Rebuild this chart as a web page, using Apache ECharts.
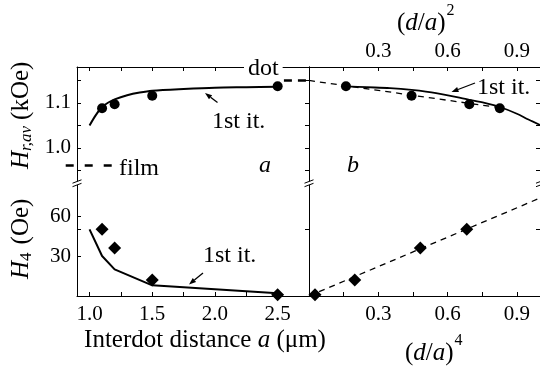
<!DOCTYPE html>
<html><head><meta charset="utf-8">
<script src="https://cdn.jsdelivr.net/npm/echarts@6/dist/echarts.min.js"></script>
<style>html,body{margin:0;padding:0;background:#fff}#c{width:540px;height:370px}</style>
</head><body><div id="c"></div>
<script>
// ---- data ----
const interdotA      = [1.1, 1.2, 1.5, 2.5];          // a (µm) of measured points
const hrAvMeasured   = [1.088, 1.097, 1.116, 1.137];  // Hr,av (kOe)
const h4Measured     = [50, 36, 12, 1];               // H4 (Oe)
const dA2Measured    = [0.826, 0.694, 0.444, 0.16];   // (d/a)^2 of the same points
const dA4Measured    = [0.683, 0.482, 0.198, 0.026];  // (d/a)^4 of the same points

const firstItA       = [1.0, 1.05, 1.1, 1.15, 1.2, 1.3, 1.4, 1.5, 1.75, 2.0, 2.25, 2.5];
const firstItHrA     = [1.050, 1.073, 1.091, 1.101, 1.108, 1.117, 1.123, 1.127, 1.131, 1.134, 1.135, 1.136];
const firstItDA2     = [0.16, 0.25, 0.35, 0.444, 0.55, 0.694, 0.76, 0.826, 0.9, 0.95, 1.0];
const firstItHrDA2   = [1.137, 1.135, 1.133, 1.129, 1.122, 1.107, 1.100, 1.091, 1.076, 1.063, 1.051];
const firstItH4A     = [1.0, 1.1, 1.2, 1.5, 2.5];
const firstItH4      = [50, 30, 20, 8, 2];

const linFitHrX      = [0, 0.83];
const linFitHrY      = [1.15, 1.089];
const linFitH4X      = [0, 1.0];
const linFitH4Y      = [0, 73.5];
const filmLevelX     = [0.81, 1.18];
const filmLevelY     = [0.961, 0.961];
const dotLevelX      = [2.55, 2.75];
const dotLevelY      = [1.15, 1.15];

const aLabelTicks    = [1.0, 1.5, 2.0, 2.5];
const aMinorTicks    = [1.0, 1.25, 1.5, 1.75, 2.0, 2.25, 2.5];
const dLabelTicks    = [0.3, 0.6, 0.9];
const dMinorTicks    = [0.15, 0.3, 0.45, 0.6, 0.75, 0.9];
const hrLabelTicks   = [1.0, 1.1];
const hrTicks        = [0.95, 1.0, 1.05, 1.1, 1.15];
const h4LabelTicks   = [30, 60];
const h4Ticks        = [30, 50, 60];
const h4InnerTicks   = [50];

// ---- layout ----
const FF = '"Liberation Serif","Times New Roman",serif';
const L = 77, MID = 309, R = 541.5, TOP = 67, BRK = 182, BOT = 296;

const pair = (xs, ys) => xs.map((x, i) => [x, ys[i]]);
const lineC = '#000';

function xAx(grid, pos, min, max, labels, ticks, showLabel) {
  return {
    type: 'value', gridIndex: grid, position: pos, min, max,
    splitLine: {show: false},
    axisLine: {show: true, lineStyle: {color: lineC, width: 1}},
    axisTick: {show: true, inside: true, length: 4, customValues: ticks, lineStyle: {color: lineC}},
    axisLabel: {show: showLabel, customValues: labels, formatter: v => v.toFixed(1),
      color: '#000', fontFamily: FF, fontSize: 21, margin: pos === 'top' ? 5 : 8}
  };
}
function yAx(grid, pos, min, max, labels, ticks, showLabel, fmt) {
  return {
    type: 'value', gridIndex: grid, position: pos, min, max,
    splitLine: {show: false},
    axisLine: {show: true, onZero: false, lineStyle: {color: lineC, width: 1}},
    axisTick: {show: ticks.length > 0, inside: true, length: 4, customValues: ticks.length ? ticks : undefined, lineStyle: {color: lineC}},
    axisLabel: {show: showLabel, customValues: labels, formatter: fmt,
      color: '#000', fontFamily: FF, fontSize: 21, margin: 6}
  };
}

const HR_MIN = 0.924, HR_MAX = 1.18, H4_MIN = 0, H4_MAX = 85.5;
const solid = {color: '#000', opacity: 1};

const option = {
  animation: false,
  backgroundColor: '#fff',
  grid: [
    {left: L, top: TOP, width: MID - L, height: BRK - TOP},
    {left: MID, top: TOP, width: R - MID, height: BRK - TOP},
    {left: L, top: BRK, width: MID - L, height: BOT - BRK},
    {left: MID, top: BRK, width: R - MID, height: BOT - BRK}
  ],
  xAxis: [
    xAx(0, 'top', 0.9, 2.75, aLabelTicks, aMinorTicks, false),
    xAx(1, 'top', 0, 1.0, dLabelTicks, dMinorTicks, true),
    xAx(2, 'bottom', 0.9, 2.75, aLabelTicks, aMinorTicks, true),
    xAx(3, 'bottom', 0, 1.0, dLabelTicks, dMinorTicks, true)
  ],
  yAxis: [
    yAx(0, 'left', HR_MIN, HR_MAX, hrLabelTicks, hrTicks, true, v => v.toFixed(1)),
    yAx(0, 'right', HR_MIN, HR_MAX, [], hrTicks, false),
    yAx(1, 'left', HR_MIN, HR_MAX, [], [], false),
    yAx(1, 'right', HR_MIN, HR_MAX, [], hrTicks, false),
    yAx(2, 'left', H4_MIN, H4_MAX, h4LabelTicks, h4Ticks, true, v => String(v)),
    yAx(2, 'right', H4_MIN, H4_MAX, [], h4InnerTicks, false),
    yAx(3, 'left', H4_MIN, H4_MAX, [], [], false),
    yAx(3, 'right', H4_MIN, H4_MAX, [], h4InnerTicks, false)
  ],
  series: [
    {type: 'line', xAxisIndex: 0, yAxisIndex: 0, data: pair(firstItA, firstItHrA), smooth: 0.3,
      showSymbol: false, lineStyle: {color: lineC, width: 2}},
    {type: 'line', xAxisIndex: 0, yAxisIndex: 0, data: pair(dotLevelX, dotLevelY), clip: false,
      showSymbol: false, lineStyle: {color: lineC, width: 2.5, type: [8, 6]}},
    {type: 'scatter', xAxisIndex: 0, yAxisIndex: 0, data: pair(interdotA, hrAvMeasured),
      symbol: 'circle', symbolSize: 10, itemStyle: solid},

    {type: 'line', xAxisIndex: 1, yAxisIndex: 2, data: pair(linFitHrX, linFitHrY),
      showSymbol: false, lineStyle: {color: lineC, width: 1.3, type: [6, 5]}},
    {type: 'line', xAxisIndex: 1, yAxisIndex: 2, data: pair(firstItDA2, firstItHrDA2), smooth: 0.3,
      showSymbol: false, lineStyle: {color: lineC, width: 1.8}},
    {type: 'scatter', xAxisIndex: 1, yAxisIndex: 2, data: pair(dA2Measured, hrAvMeasured),
      symbol: 'circle', symbolSize: 10, itemStyle: solid},

    {type: 'line', xAxisIndex: 2, yAxisIndex: 4, data: pair(firstItH4A, firstItH4),
      showSymbol: false, lineStyle: {color: lineC, width: 2}},
    {type: 'scatter', xAxisIndex: 2, yAxisIndex: 4, data: pair(interdotA, h4Measured), clip: false,
      symbol: 'diamond', symbolSize: 13, itemStyle: solid},

    {type: 'line', xAxisIndex: 3, yAxisIndex: 6, data: pair(linFitH4X, linFitH4Y),
      showSymbol: false, lineStyle: {color: lineC, width: 1.3, type: [6, 5]}},
    {type: 'scatter', xAxisIndex: 3, yAxisIndex: 6, data: pair(dA4Measured, h4Measured), clip: false,
      symbol: 'diamond', symbolSize: 13, itemStyle: solid}
  ]
};

// ---- text helpers ----
const ctx = document.createElement('canvas').getContext('2d');
function tw(t, font) { ctx.font = font; return ctx.measureText(t).width; }
function f(size, italic) { return (italic ? 'italic ' : '') + size + 'px ' + FF; }
function txt(x, y, t, font, extra) {
  return Object.assign({type: 'text', z: 100, x, y, style: {text: t, font, fill: '#000',
    align: 'left', verticalAlign: 'middle', textAlign: 'left', textVerticalAlign: 'middle'}}, extra || {});
}
function seq(x, y, parts, rot) {
  let u = 0; const ch = [];
  parts.forEach(p => {
    u += p.gap || 0;
    const font = f(p.s, p.i);
    ch.push(txt(u, p.dy || 0, p.t, font));
    u += tw(p.t, font);
  });
  return {type: 'group', x, y, rotation: rot || 0, z: 100, children: ch};
}
function centered(cx, y, parts) {
  let w = 0; parts.forEach(p => { w += (p.gap || 0) + tw(p.t, f(p.s, p.i)); });
  return seq(cx - w / 2, y, parts);
}
function arrow(x1, y1, x2, y2) { // head at (x2,y2)
  const a = Math.atan2(y2 - y1, x2 - x1), hl = 7, hw = 2.6;
  const bx = x2 - hl * Math.cos(a), by = y2 - hl * Math.sin(a);
  const px = -Math.sin(a) * hw, py = Math.cos(a) * hw;
  return [
    {type: 'line', z: 100, shape: {x1, y1, x2: bx, y2: by}, style: {stroke: '#000', lineWidth: 1.3}},
    {type: 'polygon', z: 100, shape: {points: [[x2, y2], [bx + px, by + py], [bx - px, by - py]]}, style: {fill: '#000'}}
  ];
}
function brk(x, y) {
  return [
    {type: 'polygon', z: 99, shape: {points: [[x - 4, y + 1], [x + 4, y - 2], [x + 4, y + 1.5], [x - 4, y + 4.5]]}, style: {fill: '#fff'}},
    {type: 'line', z: 100, shape: {x1: x - 4.5, y1: y + 1.2, x2: x + 4.5, y2: y - 2.2}, style: {stroke: '#000', lineWidth: 1}},
    {type: 'line', z: 100, shape: {x1: x - 4.5, y1: y + 4.7, x2: x + 4.5, y2: y + 1.3}, style: {stroke: '#000', lineWidth: 1}}
  ];
}

const T = 25, A = 24;
const graphics = [
  seq(21, 169, [{t: 'H', s: T, i: true}, {t: 'r,av', s: 17, i: true, dy: 6}, {t: '(kOe)', s: T, gap: 6}], Math.PI / 2),
  seq(21, 279, [{t: 'H', s: T, i: true}, {t: '4', s: 17, dy: 6}, {t: '(Oe)', s: T, gap: 8}], Math.PI / 2),
  centered(205, 340, [{t: 'Interdot distance ', s: T}, {t: 'a', s: T, i: true}, {t: ' (\u03bcm)', s: T}]),
  seq(405, 353, [{t: '(', s: T}, {t: 'd', s: T, i: true}, {t: '/', s: T}, {t: 'a', s: T, i: true}, {t: ')', s: T}, {t: '4', s: 16, dy: -12, gap: 1}]),
  seq(397, 23, [{t: '(', s: T}, {t: 'd', s: T, i: true}, {t: '/', s: T}, {t: 'a', s: T, i: true}, {t: ')', s: T}, {t: '2', s: 16, dy: -12, gap: 1}]),
  txt(212, 122, '1st it.', f(A)),
  txt(477, 88, '1st it.', f(A)),
  txt(203, 256, '1st it.', f(A)),
  txt(119, 169, 'film', f(A)),
  txt(244, 69, 'dot', f(A), {style: {text: 'dot', font: f(A), fill: '#000', align: 'left', verticalAlign: 'middle',
     textAlign: 'left', textVerticalAlign: 'middle', backgroundColor: '#fff', padding: [0, 4, 0, 4]}}),
  txt(259, 166, 'a', f(A, true)),
  txt(347, 166, 'b', f(A, true)),
  ...arrow(217.5, 102.5, 205, 93),
  ...arrow(475, 83, 451.5, 92),
  ...arrow(203, 273, 189, 284.5),
  ...brk(L, BRK), ...brk(MID, BRK), ...brk(R - 1, BRK)
];
option.graphic = graphics;

const chart = echarts.init(document.getElementById('c'), null, {renderer: 'canvas'});
chart.setOption(option);

// film level: partly outside the plot frame, so drawn from its data through the axis scales
const fp = pair(filmLevelX, filmLevelY).map(p => chart.convertToPixel({xAxisIndex: 0, yAxisIndex: 0}, p));
chart.setOption({graphic: graphics.concat([{type: 'polyline', z: 90, shape: {points: fp},
  style: {stroke: '#000', lineWidth: 2.5, lineDash: [8, 11], fill: null}}])});
</script></body></html>
